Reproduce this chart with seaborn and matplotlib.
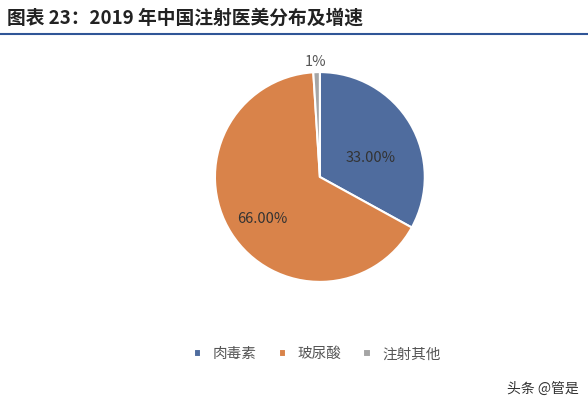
import matplotlib
matplotlib.use("Agg")
import matplotlib.pyplot as plt
import seaborn as sns

categories = ["肉毒素", "玻尿酸", "注射其他"]
values = [33.0, 66.0, 1.0]
labels_text = ["33.00%", "66.00%", "1%"]

sns.set_theme(style="white")
plt.rcParams['font.family'] = ['Noto Sans CJK SC', 'DejaVu Sans']
colors = ["#4f6c9e", "#d9834a", "#a5a5a5"]

fig = plt.figure(figsize=(5.88, 4.05), dpi=100)
fig.text(0.012, 0.955, "图表 23：2019 年中国注射医美分布及增速", fontsize=13.5,
         fontweight="bold", fontstyle="italic", va="center", color="#222222")
fig.add_artist(plt.Line2D([0.0, 1.0], [0.915, 0.915], color="#2f5597", lw=1.5))

ax = fig.add_axes([0.321, 0.238, 0.446, 0.65])
wedges, _ = ax.pie(values, colors=colors, startangle=90, counterclock=False,
                   wedgeprops=dict(edgecolor="white", linewidth=1.5))
ax.set_aspect("equal")
ax.text(0.48, 0.18, labels_text[0], fontsize=10.5, color="#333333", ha="center", va="center")
ax.text(-0.55, -0.4, labels_text[1], fontsize=10.5, color="#333333", ha="center", va="center")
ax.text(-0.04, 1.1, labels_text[2], fontsize=10.5, color="#555555", ha="center", va="center")

fig.legend(wedges, categories, loc="center", bbox_to_anchor=(0.54, 0.125), ncol=3,
           frameon=False, fontsize=10.5, handlelength=0.5, handleheight=0.5,
           columnspacing=1.5, labelcolor="#555555")
fig.text(0.985, 0.04, "头条 @管是", fontsize=10, ha="right", va="center", color="#333333")
fig.savefig("out.png", dpi=100)
